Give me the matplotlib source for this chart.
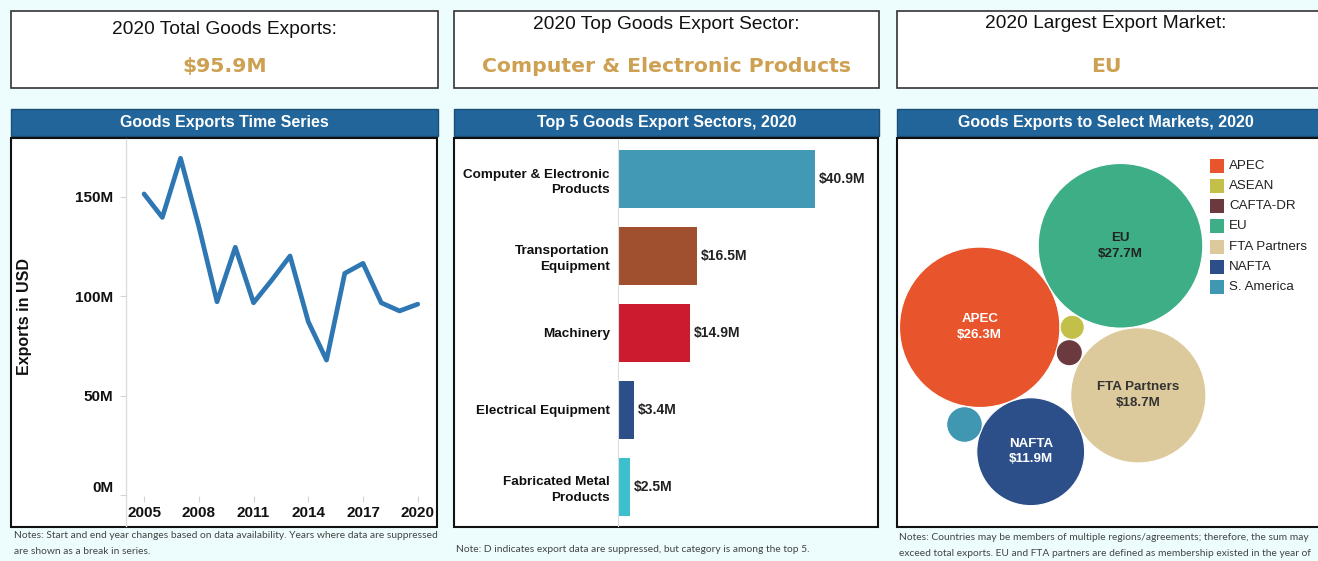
import matplotlib
matplotlib.use("Agg")
import matplotlib.pyplot as plt
from matplotlib.patches import Rectangle, Circle
import numpy as np

# ---------------- data ----------------
kpi_titles = ["2020 Total Goods Exports:", "2020 Top Goods Export Sector:", "2020 Largest Export Market:"]
kpi_values = ["$95.9M", "Computer & Electronic Products", "EU"]
panel_titles = ["Goods Exports Time Series", "Top 5 Goods Export Sectors, 2020",
                "Goods Exports to Select Markets, 2020"]

years = [2005, 2006, 2007, 2008, 2009, 2010, 2011, 2012, 2013, 2014, 2015, 2016, 2017, 2018, 2019, 2020]
exports_m = [151.3, 139.5, 169.2, 135.0, 97.1, 124.5, 96.6, 108.0, 120.1, 87.1, 67.8, 111.4, 116.4, 96.6, 92.5, 95.9]
year_ticks = [2005, 2008, 2011, 2014, 2017, 2020]
y_ticks = [0, 50, 100, 150]
y_tick_labels = ["0M", "50M", "100M", "150M"]

sectors = ["Computer & Electronic\nProducts", "Transportation\nEquipment", "Machinery",
           "Electrical Equipment", "Fabricated Metal\nProducts"]
sector_values = [40.9, 16.5, 14.9, 3.4, 2.5]
sector_colors = ["#4199B5", "#A0502E", "#CC1A2F", "#2C4F8A", "#3CC0CE"]

markets = ["APEC", "ASEAN", "CAFTA-DR", "EU", "FTA Partners", "NAFTA", "S. America"]
market_values = [26.3, 0.6, 0.7, 27.7, 18.7, 11.9, 1.3]
market_colors = ["#E8542C", "#C3C04A", "#6B3A3E", "#3DAE85", "#DCCA9C", "#2C4F8A", "#4097B2"]
market_label_colors = ["white", None, None, "#222222", "#333333", "white", None]

notes1 = ["Notes: Start and end year changes based on data availability. Years where data are suppressed",
          "are shown as a break in series."]
notes2 = ["Note: D indicates export data are suppressed, but category is among the top 5."]
notes3 = ["Notes: Countries may be members of multiple regions/agreements; therefore, the sum may",
          "exceed total exports. EU and FTA partners are defined as membership existed in the year of"]

# ---------------- layout (pixels) ----------------
W, H = 1318, 561
BG = "#EDFDFD"
HEAD = "#21659A"
GOLD = "#CDA052"
SANS = ["Liberation Sans", "DejaVu Sans"]
NOTE_FONT = ["Lato", "DejaVu Sans"]

fig = plt.figure(figsize=(W / 100, H / 100), dpi=100)
fig.patch.set_facecolor(BG)

def rect(x0, y0, x1, y1):
    return [x0 / W, 1 - y1 / H, (x1 - x0) / W, (y1 - y0) / H]

bg = fig.add_axes([0, 0, 1, 1])
bg.set_xlim(0, W)
bg.set_ylim(H, 0)
bg.axis("off")
bg.set_zorder(0)

cols = [(11, 438), (454, 879), (897, 1322)]
kpi_title_y = [29, 24, 23]
for i, (x0, x1) in enumerate(cols):
    # KPI box
    bg.add_patch(Rectangle((x0, 11), x1 - x0, 77, facecolor="white", edgecolor="#333333", lw=1.2))
    cx = 1106 if i == 2 else (x0 + x1) / 2
    bg.text(cx, kpi_title_y[i], kpi_titles[i], ha="center", va="center", fontsize=13.8,
            family=SANS, color="#111111")
    bg.text(cx, 66, kpi_values[i], ha="center", va="center", fontsize=14.7,
            family=["DejaVu Sans"], fontweight="bold", color=GOLD)
    # header
    bg.add_patch(Rectangle((x0, 108.5), x1 - x0, 27.5, facecolor=HEAD, edgecolor="#1A4F78", lw=1.0))
    bg.text(cx, 122.5, panel_titles[i], ha="center", va="center", fontsize=11.5,
            family=SANS, fontweight="bold", color="white")
    # chart box
    bg.add_patch(Rectangle((x0, 138), x1 - x0 - 1, 389, facecolor="white", edgecolor="#111111", lw=1.5))

for k, line in enumerate(notes1):
    bg.text(14, 536 + 15 * k, line, ha="left", va="center", fontsize=7.4, family=NOTE_FONT, color="#444444")
for k, line in enumerate(notes2):
    bg.text(456, 550 + 15 * k, line, ha="left", va="center", fontsize=7.4, family=NOTE_FONT, color="#444444")
for k, line in enumerate(notes3):
    bg.text(899, 538 + 15 * k, line, ha="left", va="center", fontsize=7.4, family=NOTE_FONT, color="#444444")

# axis line of the time-series continuing to the box bottom
bg.plot([126, 126], [139, 526], color="#DDDDDD", lw=1.0)
bg.text(25, 316, "Exports in USD", rotation=90, ha="center", va="center", fontsize=11.5,
        family=SANS, fontweight="bold", color="#111111")

# ---------------- line chart ----------------
ax1 = fig.add_axes(rect(126, 139, 436, 496))
ax1.set_zorder(2)
ax1.patch.set_alpha(0)
ax1.plot(years, exports_m, color="#2E77B3", lw=3.4, solid_joinstyle="round", solid_capstyle="round")
ax1.set_xlim(2004.01, 2021.0)
ax1.set_ylim(-0.5, 178.9)
ax1.set_xticks(year_ticks)
ax1.set_xticklabels([str(y) for y in year_ticks])
ax1.set_yticks(y_ticks)
ax1.set_yticklabels(y_tick_labels)
for s in ["top", "right", "bottom", "left"]:
    ax1.spines[s].set_visible(False)
ax1.tick_params(axis="both", colors="#D5D5D5", labelcolor="#111111", length=4, width=0.8)
ax1.tick_params(axis="y", pad=5)
ax1.tick_params(axis="x", pad=3)
for lab in ax1.get_xticklabels() + ax1.get_yticklabels():
    lab.set_fontfamily(SANS)
    lab.set_fontweight("bold")
    lab.set_fontsize(11)
ylabs = ax1.get_yticklabels()
ylabs[0].set_verticalalignment("bottom")

# ---------------- bar chart ----------------
ax2 = fig.add_axes(rect(618, 139, 878, 526))
ax2.set_zorder(2)
ax2.patch.set_alpha(0)
ypos = np.arange(len(sectors))
ax2.barh(ypos, sector_values, height=0.75, color=sector_colors)
ax2.set_ylim(len(sectors) - 1 + 0.51, -0.52)
ax2.set_xlim(0, 54.0)
ax2.set_yticks(ypos)
ax2.set_yticklabels(sectors, ha="right", fontsize=9.7, fontweight="bold", family=SANS, color="#111111",
                    linespacing=1.4)
ax2.set_xticks([])
ax2.tick_params(axis="y", length=0, pad=6)
for s in ["top", "right", "bottom"]:
    ax2.spines[s].set_visible(False)
ax2.spines["left"].set_color("#DDDDDD")
for yp, v in zip(ypos, sector_values):
    ax2.text(v + 0.8, yp, f"${v}M", ha="left", va="center", fontsize=10, fontweight="bold",
             family=SANS, color="#222222")

# ---------------- bubble chart ----------------
ax3 = fig.add_axes(rect(897, 139, 1318, 526))
ax3.set_zorder(2)
ax3.patch.set_alpha(0)
ax3.set_xlim(897, 1318)
ax3.set_ylim(526, 139)
ax3.axis("off")
bubble_centers = [(979.7, 327.3), (1072.2, 327.3), (1069.3, 352.7), (1120.5, 245.8),
                  (1138.3, 395.3), (1030.7, 451.7), (964.5, 424.5)]
scale = 82.3 / np.sqrt(max(market_values))
for name, v, c, (cx, cy), lc in zip(markets, market_values, market_colors, bubble_centers, market_label_colors):
    r = scale * np.sqrt(v)
    ax3.add_patch(Circle((cx, cy), r, facecolor=c, edgecolor="white", lw=0.8))
    if lc is not None:
        ax3.text(cx, cy, f"{name}\n${v}M", ha="center", va="center", fontsize=9.6, fontweight="bold",
                 family=SANS, color=lc, linespacing=1.4)

# legend
for k, (name, c) in enumerate(zip(markets, market_colors)):
    y = 165.7 + 20.2 * k
    ax3.add_patch(Rectangle((1209.5, y - 7), 14, 14, facecolor=c, edgecolor="none", zorder=5))
    ax3.text(1229, y, name, ha="left", va="center", fontsize=9.6, family=SANS, color="#222222", zorder=5)

fig.savefig("out.png", dpi=100, facecolor=BG)
